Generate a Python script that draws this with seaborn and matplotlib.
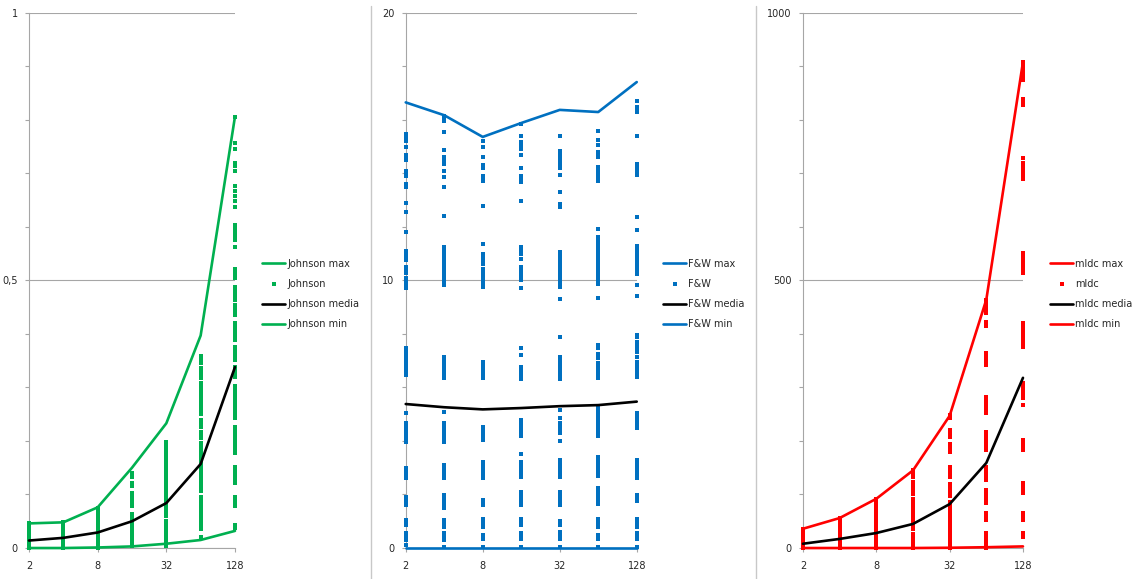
import numpy as np
import pandas as pd
import seaborn as sns
import matplotlib.pyplot as plt
from matplotlib.lines import Line2D
from matplotlib.ticker import MultipleLocator, NullLocator

sns.set_style("white")
plt.rcParams['font.family'] = ['DejaVu Sans']

x = [2, 4, 8, 16, 32, 64, 128]
x_ticks = [2, 8, 32, 128]
x_labels = ["2", "8", "32", "128"]

# Johnson
johnson_max = [0.046, 0.048, 0.076, 0.150, 0.233, 0.397, 0.806]
johnson_media = [0.014, 0.019, 0.029, 0.050, 0.084, 0.157, 0.338]
johnson_min = [0.0, 0.0, 0.001, 0.003, 0.008, 0.015, 0.032]
johnson_pts = [
    [0.0, 0.005, 0.01, 0.015, 0.02, 0.025, 0.03, 0.035, 0.04, 0.046],
    [0.0, 0.005, 0.01, 0.015, 0.02, 0.025, 0.03, 0.035, 0.04, 0.044, 0.048],
    [0.0, 0.005, 0.01, 0.015, 0.02, 0.025, 0.03, 0.035, 0.04, 0.045, 0.05, 0.055, 0.06, 0.065, 0.07, 0.075],
    [0.003, 0.008, 0.013, 0.018, 0.023, 0.028, 0.033, 0.038, 0.043, 0.048, 0.053, 0.058, 0.063,
     0.078, 0.083, 0.088, 0.093, 0.098, 0.103, 0.116, 0.121, 0.132, 0.137, 0.141],
    [0.199, 0.193, 0.187, 0.181, 0.175, 0.169, 0.163, 0.157, 0.151, 0.143, 0.137, 0.131, 0.125, 0.119,
     0.113, 0.107, 0.101, 0.095, 0.089, 0.083, 0.077, 0.071, 0.065, 0.059, 0.05, 0.044, 0.038, 0.032,
     0.026, 0.02, 0.014, 0.008, 0.003],
    [0.358, 0.352, 0.345, 0.336, 0.33, 0.324, 0.318, 0.308, 0.302, 0.296, 0.29, 0.283, 0.274, 0.268,
     0.262, 0.256, 0.25, 0.239, 0.233, 0.227, 0.217, 0.211, 0.205, 0.196, 0.19, 0.184, 0.178, 0.172,
     0.166, 0.16, 0.154, 0.148, 0.142, 0.136, 0.13, 0.124, 0.118, 0.112, 0.106, 0.096, 0.09, 0.084,
     0.078, 0.072, 0.066, 0.059, 0.053, 0.047, 0.041, 0.035, 0.021],
    [0.806, 0.757, 0.745, 0.72, 0.713, 0.705, 0.676, 0.667, 0.658, 0.649, 0.637, 0.603, 0.597, 0.59,
     0.583, 0.575, 0.563, 0.522, 0.516, 0.51, 0.504, 0.488, 0.482, 0.476, 0.47, 0.463, 0.454, 0.448,
     0.442, 0.436, 0.42, 0.414, 0.408, 0.402, 0.396, 0.389, 0.376, 0.37, 0.364, 0.358, 0.351, 0.339,
     0.333, 0.326, 0.32, 0.302, 0.296, 0.29, 0.284, 0.278, 0.272, 0.266, 0.26, 0.254, 0.248, 0.242,
     0.227, 0.221, 0.215, 0.209, 0.203, 0.197, 0.19, 0.184, 0.177, 0.152, 0.146, 0.14, 0.134, 0.127,
     0.121, 0.096, 0.09, 0.084, 0.078, 0.043, 0.038],
]

# F&W
fw_max = [16.65, 16.17, 15.36, 15.88, 16.37, 16.29, 17.41]
fw_media = [5.38, 5.26, 5.18, 5.23, 5.30, 5.34, 5.47]
fw_min = [0, 0, 0, 0, 0, 0, 0]
fw_pts = [
    [15.47, 15.35, 15.22, 15.0, 14.7, 14.6, 14.5, 14.1, 14.0, 13.9, 13.6, 13.5, 12.9, 12.55, 11.8,
     11.1, 11.0, 10.9, 10.75, 10.5, 10.4, 10.26, 10.1, 10.0, 9.9, 9.8, 9.7, 7.46, 7.34, 7.22, 7.1,
     7.0, 6.9, 6.78, 6.66, 6.54, 6.45, 5.03, 4.66, 4.54, 4.42, 4.3, 4.18, 4.06, 3.97, 2.98, 2.86,
     2.74, 2.6, 1.92, 1.8, 1.7, 1.6, 1.04, 0.95, 0.86, 0.55, 0.43, 0.3, 0.1],
    [16.16, 16.05, 15.97, 15.56, 14.87, 14.6, 14.48, 14.35, 14.1, 13.88, 13.48, 12.42, 11.24, 11.12,
     11.0, 10.87, 10.75, 10.62, 10.5, 10.38, 10.25, 10.12, 10.0, 9.94, 9.81, 7.14, 7.02, 6.9, 6.78,
     6.66, 6.54, 6.42, 6.34, 5.08, 4.66, 4.54, 4.42, 4.3, 4.18, 4.06, 3.97, 3.1, 2.98, 2.86, 2.74,
     2.6, 1.98, 1.86, 1.74, 1.6, 1.49, 1.04, 0.92, 0.79, 0.55, 0.43, 0.3, 0.05],
    [15.22, 15.0, 14.6, 14.3, 14.2, 13.9, 13.8, 13.7, 12.77, 11.37, 11.0, 10.88, 10.75, 10.62,
     10.44, 10.32, 10.2, 10.08, 9.96, 9.85, 9.75, 6.95, 6.83, 6.71, 6.58, 6.46, 6.34, 4.53, 4.41,
     4.28, 4.16, 4.03, 3.22, 3.1, 2.98, 2.86, 2.73, 2.6, 1.8, 1.7, 1.6, 1.1, 0.95, 0.8, 0.5, 0.35, 0.05],
    [15.85, 15.4, 15.16, 15.03, 14.9, 14.69, 14.19, 13.9, 13.78, 13.67, 12.95, 11.24, 11.12, 11.0,
     10.81, 10.5, 10.38, 10.25, 10.12, 10.0, 9.73, 7.46, 7.2, 6.77, 6.65, 6.53, 6.41, 6.3, 4.78,
     4.66, 4.54, 4.42, 4.3, 4.2, 3.5, 3.22, 3.1, 2.98, 2.86, 2.74, 2.66, 2.1, 1.98, 1.86, 1.74,
     1.6, 1.1, 0.98, 0.86, 0.55, 0.45, 0.35, 0.05],
    [15.4, 14.85, 14.72, 14.6, 14.5, 14.35, 14.2, 13.92, 13.3, 12.86, 12.74, 11.06, 10.94, 10.82,
     10.7, 10.58, 10.46, 10.34, 10.22, 10.1, 9.98, 9.86, 9.75, 9.32, 7.88, 7.14, 7.02, 6.9, 6.78,
     6.66, 6.54, 6.42, 6.3, 5.17, 4.84, 4.66, 4.54, 4.42, 4.28, 4.0, 3.28, 3.16, 3.04, 2.92, 2.8,
     2.66, 2.1, 1.98, 1.86, 1.74, 1.6, 1.0, 0.86, 0.6, 0.48, 0.35, 0.05],
    [15.6, 15.26, 15.06, 14.8, 14.7, 14.6, 14.23, 14.1, 13.98, 13.86, 13.73, 11.93, 11.62, 11.5,
     11.38, 11.26, 11.14, 11.02, 10.9, 10.78, 10.66, 10.54, 10.42, 10.3, 10.18, 10.06, 9.94, 9.88,
     9.35, 7.6, 7.46, 7.24, 7.1, 6.9, 6.78, 6.66, 6.54, 6.42, 6.37, 5.26, 5.14, 5.02, 4.9, 4.78,
     4.66, 4.54, 4.42, 4.3, 4.18, 3.4, 3.28, 3.16, 3.04, 2.92, 2.8, 2.68, 2.24, 2.12, 2.0, 1.88,
     1.76, 1.64, 1.1, 0.95, 0.8, 0.5, 0.35, 0.05],
    [16.72, 16.47, 16.37, 16.28, 15.41, 14.35, 14.22, 14.08, 13.92, 12.36, 11.87, 11.3, 11.18,
     11.06, 10.94, 10.82, 10.7, 10.58, 10.46, 10.34, 10.25, 9.81, 9.4, 7.96, 7.88, 7.7, 7.58, 7.46,
     7.33, 7.14, 6.95, 6.83, 6.71, 6.59, 6.47, 6.4, 5.03, 4.91, 4.79, 4.67, 4.55, 4.47, 3.28, 3.16,
     3.04, 2.92, 2.8, 2.68, 2.6, 1.98, 1.86, 1.74, 1.1, 0.95, 0.79, 0.55, 0.45, 0.35, 0.05],
]

# mldc
mldc_max = [36, 56, 92, 145, 247, 464, 908]
mldc_media = [8, 17, 28, 45, 82, 159, 318]
mldc_min = [0, 0, 0, 0, 0.5, 1.5, 3]
mldc_pts = [
    [0, 5, 10, 15, 20, 25, 30, 36],
    [0, 5, 10, 15, 20, 25, 30, 35, 40, 45, 50, 56],
    [0, 5, 10, 15, 20, 25, 30, 35, 40, 45, 50, 55, 60, 65, 70, 75, 80, 86, 92],
    [0, 5, 10, 15, 21, 27, 36, 41, 46, 52, 58, 64, 69, 74, 80, 86, 92, 101, 106, 112, 117, 123,
     133, 139, 145],
    [0, 5, 10, 15, 21, 27, 33, 39, 44, 50, 58, 64, 69, 75, 80, 86, 98, 103, 109, 114, 120, 133,
     139, 145, 151, 179, 184, 190, 195, 207, 213, 220, 242, 248],
    [0, 6, 12, 18, 24, 28, 52, 58, 65, 84, 90, 96, 102, 108, 127, 133, 139, 146, 152, 183, 189,
     195, 201, 207, 213, 217, 252, 258, 264, 270, 276, 283, 342, 348, 354, 360, 364, 414, 419,
     423, 439, 445, 451, 457, 464],
    [21, 25, 28, 52, 58, 65, 103, 109, 115, 121, 183, 189, 195, 202, 267, 280, 286, 292, 298, 304,
     308, 376, 382, 388, 394, 400, 406, 412, 420, 513, 519, 525, 531, 537, 543, 551, 690, 696, 702,
     708, 714, 720, 728, 828, 833, 838, 875, 881, 887, 893, 899, 904, 908],
]

fig = plt.figure(figsize=(11.33, 5.79), dpi=100)

axis_col = "#a6a6a6"
text_col = "#262626"


def draw_panel(rect, name, color, vmax, vmin, vmed, pts, ymax, minor, yticks, ylabels, leg_x):
    ax = fig.add_axes(rect)
    df = pd.DataFrame({"x": np.repeat(x, [len(p) for p in pts]),
                       "y": np.concatenate(pts)})
    sns.lineplot(x=x, y=vmax, color=color, lw=1.9, ax=ax, label=name + " max",
                 clip_on=False, zorder=3)
    sns.scatterplot(data=df, x="x", y="y", marker="s", s=5.5, color=color, linewidth=0,
                    ax=ax, label=name, clip_on=False, zorder=3)
    sns.lineplot(x=x, y=vmed, color="black", lw=1.9, ax=ax, label=name + " media",
                 clip_on=False, zorder=3)
    sns.lineplot(x=x, y=vmin, color=color, lw=1.9, ax=ax, label=name + " min",
                 clip_on=False, zorder=3)

    ax.set_xscale("log", base=2)
    ax.set_xlim(2, 128)
    ax.set_ylim(0, ymax)
    ax.set_xticks(x_ticks)
    ax.set_xticklabels(x_labels)
    ax.xaxis.set_minor_locator(NullLocator())
    ax.set_yticks(yticks)
    ax.set_yticklabels(ylabels)
    ax.yaxis.set_minor_locator(MultipleLocator(minor))
    ax.set_xlabel("")
    ax.set_ylabel("")

    ax.grid(axis="y", which="major", color=axis_col, lw=0.8)
    ax.grid(axis="x", visible=False)
    for s in ["top", "right"]:
        ax.spines[s].set_visible(False)
    for s in ["left", "bottom"]:
        ax.spines[s].set_color(axis_col)
        ax.spines[s].set_linewidth(0.8)
    ax.tick_params(axis="both", which="both", direction="out", length=3, width=0.8,
                   color=axis_col, labelsize=7, labelcolor=text_col,
                   left=True, bottom=True)
    ax.tick_params(axis="x", pad=6)
    ax.tick_params(axis="y", pad=5)

    ax.legend(loc="center left", bbox_to_anchor=(leg_x, 0.492), bbox_transform=fig.transFigure,
              frameon=False, fontsize=7, handlelength=2.4, handletextpad=0.2,
              labelspacing=1.05, borderpad=0, borderaxespad=0, scatterpoints=1,
              labelcolor=text_col)
    return ax


bottom = 0.0535
height = 0.9245

draw_panel([0.0256, bottom, 0.1818, height], "Johnson", "#00b050",
           johnson_max, johnson_min, johnson_media, johnson_pts,
           1, 0.1, [0, 0.5, 1], ["0", "0,5", "1"], 0.2312)
draw_panel([0.3581, bottom, 0.2039, height], "F&W", "#0070c0",
           fw_max, fw_min, fw_media, fw_pts,
           20, 2, [0, 10, 20], ["0", "10", "20"], 0.5852)
draw_panel([0.7087, bottom, 0.1942, height], "mldc", "#ff0000",
           mldc_max, mldc_min, mldc_media, mldc_pts,
           1000, 100, [0, 500, 1000], ["0", "500", "1000"], 0.9268)

# panel separators
for sx in [371 / 1133, 756 / 1133]:
    fig.add_artist(Line2D([sx, sx], [0, 0.99], transform=fig.transFigure, color="#c8c8c8", lw=1))

fig.savefig("out.png", dpi=100)
